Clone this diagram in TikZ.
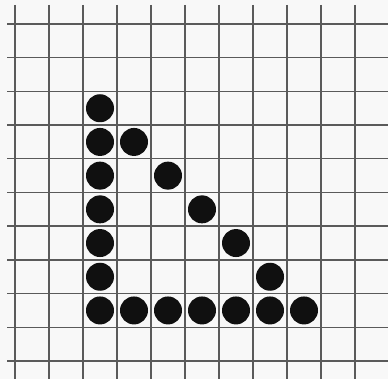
\documentclass[tikz,border=0pt]{standalone}
\definecolor{gridgray}{HTML}{5A5A5A}
\definecolor{paper}{HTML}{F8F8F8}
\definecolor{dotblack}{HTML}{101010}
\tikzset{
  gridline/.style={draw=gridgray, line width=1.4pt},
  dot/.style={circle, fill=dotblack, minimum size=28pt, inner sep=0pt}
}
\begin{document}
\begin{tikzpicture}[x=1pt,y=-1pt]
\fill[paper] (0,0) rectangle (388,379);
\useasboundingbox (0,0) rectangle (388,379);
% vertical lines
\foreach \k in {0,...,10} {
  \draw[gridline] ({15+34*\k},5) -- ({15+34*\k},379);
}
% horizontal lines
\foreach \k in {0,...,10} {
  \draw[gridline] (7,{24+33.7*\k}) -- (388,{24+33.7*\k});
}
% dots: column 2 rows 2..8
\foreach \r in {2,...,8} {
  \node[dot] (v\r) at ({15+34*2+17},{24+33.7*\r+16.85}) {};
}
% diagonal
\foreach \c in {3,...,7} {
  \node[dot] (d\c) at ({15+34*\c+17},{24+33.7*\c+16.85}) {};
}
% bottom row
\foreach \c in {3,...,8} {
  \node[dot] (b\c) at ({15+34*\c+17},{24+33.7*8+16.85}) {};
}
\end{tikzpicture}
\end{document}
